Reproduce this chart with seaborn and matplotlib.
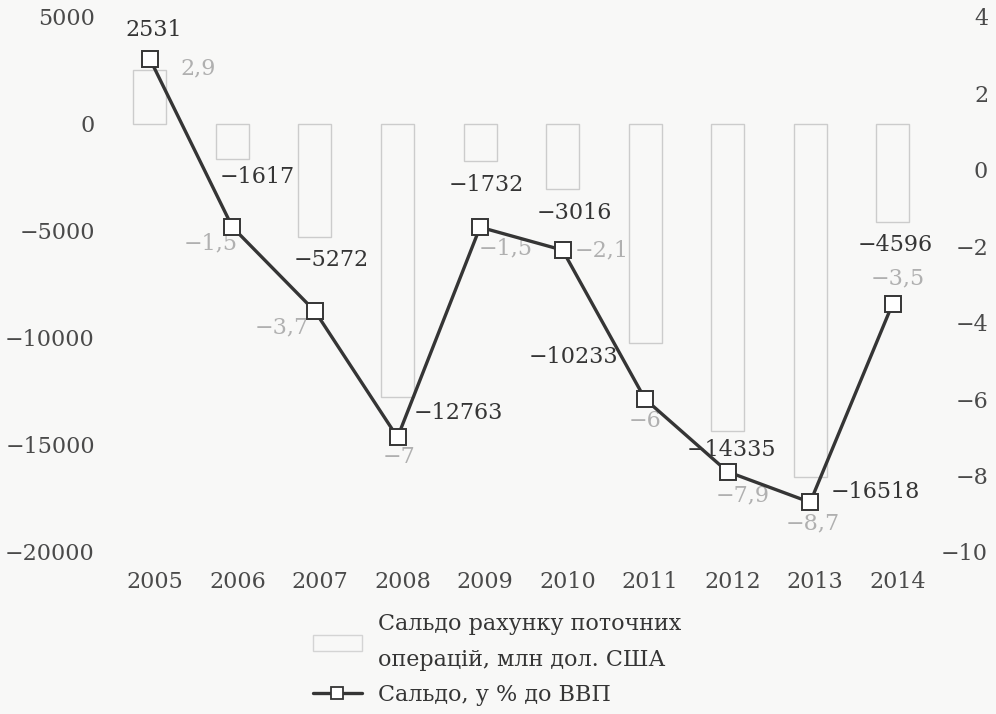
import numpy as np
import pandas as pd
import matplotlib
matplotlib.use("Agg")
import matplotlib.pyplot as plt
import matplotlib.transforms as mtransforms
import seaborn as sns
from matplotlib.lines import Line2D
from matplotlib.patches import Patch

# Current account balance of Ukraine, 2005-2014
years = ["2005", "2006", "2007", "2008", "2009", "2010", "2011", "2012", "2013", "2014"]
balance_musd = [2531, -1617, -5272, -12763, -1732, -3016, -10233, -14335, -16518, -4596]
balance_pct_gdp = [2.9, -1.5, -3.7, -7.0, -1.5, -2.1, -6.0, -7.9, -8.7, -3.5]
left_ticks = [5000, 0, -5000, -10000, -15000, -20000]
right_ticks = [4, 2, 0, -2, -4, -6, -8, -10]
legend_labels = ["Сальдо рахунку поточних\nоперацій, млн дол. США", "Сальдо, у % до ВВП"]

BG = "#f8f8f7"
DARK = "#353535"
TICK = "#4a4a4a"
BAR_EDGE = "#cccccc"
PCT_TEXT = "#b0b0b0"
FS = 16


def signed(v):
    s = f"{abs(v):g}".replace(".", ",")
    return ("\u2212" + s) if v < 0 else s


sns.set_theme(style="white")
plt.rcParams["font.family"] = ["DejaVu Serif"]
plt.rcParams["axes.unicode_minus"] = True

fig = plt.figure(figsize=(9.96, 7.14), dpi=100, facecolor=BG)
ax1 = fig.add_axes([0.1091, 0.2269, 0.8286, 0.7493])
ax1.set_facecolor(BG)

df = pd.DataFrame({"year": years, "usd": balance_musd})
sns.barplot(data=df, x="year", y="usd", ax=ax1, width=0.4, color=BG,
            saturation=1, edgecolor=BAR_EDGE, linewidth=1.0)
ax1.set_xlim(-0.5, len(years) - 0.5)
ax1.set_ylim(-20000, 5000)

ax2 = ax1.twinx()
ax2.patch.set_visible(False)
pos = np.arange(len(years))
sns.lineplot(x=pos, y=balance_pct_gdp, ax=ax2, color=DARK, linewidth=2.4,
             marker="s", markersize=11, markerfacecolor="white",
             markeredgecolor=DARK, markeredgewidth=1.4, legend=False)
ax2.set_ylim(-10, 4)

# axes styling
for ax in (ax1, ax2):
    for sp in ax.spines.values():
        sp.set_visible(False)
    ax.set_xlabel("")
    ax.set_ylabel("")

ax1.set_yticks(left_ticks)
ax1.set_yticklabels([signed(t) for t in left_ticks])
ax1.tick_params(axis="y", length=0, pad=10, labelsize=FS, labelcolor=TICK)
ax1.set_xticks(pos)
ax1.set_xticklabels(years)
ax1.tick_params(axis="x", length=0, pad=14, labelsize=FS, labelcolor=TICK)
shift = mtransforms.ScaledTranslation(5 / 100, 0, fig.dpi_scale_trans)
for lab in ax1.get_xticklabels():
    lab.set_transform(lab.get_transform() + shift)

ax2.set_yticks(right_ticks)
ax2.set_yticklabels([signed(t) for t in right_ticks])
ax2.tick_params(axis="y", length=0, pad=39, labelsize=FS, labelcolor=TICK)
for lab in ax2.get_yticklabels():
    lab.set_horizontalalignment("right")

# value labels (offsets in pixels, converted to points)
px = 72 / 100
bar_offsets = [(4, 40), (25, -18), (16, -23), (61, -16), (6, -24),
               (12, -24), (-72, -14), (4, -19), (65, -15), (3, -23)]
for i, (v, (dx, dy)) in enumerate(zip(balance_musd, bar_offsets)):
    ax1.annotate(signed(v), xy=(i, v), xytext=(dx * px, dy * px),
                 textcoords="offset points", ha="center", va="center",
                 fontsize=FS, color=DARK)

pct_offsets = [(48, -9), (-22, -16), (-33, -16), (2, -20), (26, -21),
               (39, 0), (0, -22), (15, -24), (3, -21), (5, 25)]
for i, (v, (dx, dy)) in enumerate(zip(balance_pct_gdp, pct_offsets)):
    ax2.annotate(signed(v), xy=(i, v), xytext=(dx * px, dy * px),
                 textcoords="offset points", ha="center", va="center",
                 fontsize=FS, color=PCT_TEXT, zorder=1)

handles = [
    Patch(facecolor=BG, edgecolor="#d4d4d4", linewidth=1.0),
    Line2D([], [], color=DARK, linewidth=2.4, marker="s", markersize=9,
           markerfacecolor="white", markeredgecolor=DARK, markeredgewidth=1.3),
]
leg = fig.legend(handles, legend_labels, loc="upper left",
                 bbox_to_anchor=(0.314, 0.141), frameon=False, fontsize=FS,
                 handlelength=2.2, handletextpad=0.75, labelspacing=0.6,
                 borderpad=0, borderaxespad=0)
for t in leg.get_texts():
    t.set_color(DARK)
    t.set_linespacing(1.8)

fig.savefig("out.png", dpi=100, facecolor=BG)
